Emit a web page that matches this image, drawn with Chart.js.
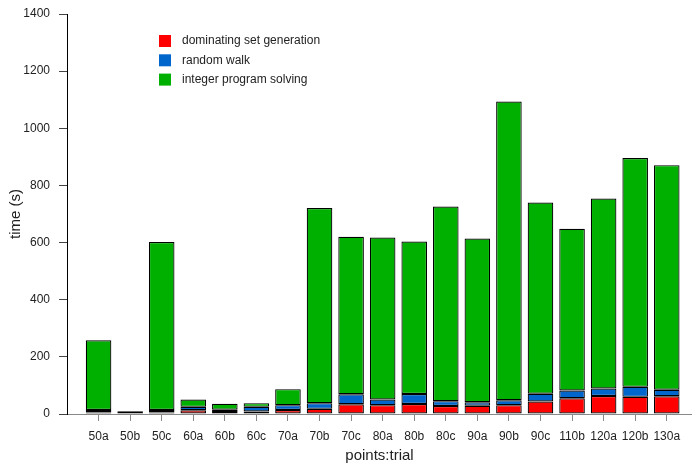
<!DOCTYPE html>
<html>
<head>
<meta charset="utf-8">
<script src="https://cdn.jsdelivr.net/npm/chart.js@4/dist/chart.umd.min.js"></script>
<style>
  html, body { margin: 0; padding: 0; background: #ffffff; }
  #wrap { width: 692px; height: 464px; }
</style>
</head>
<body>
<div id="wrap"><canvas id="c" width="692" height="464"></canvas></div>
<script>
// Run labels (points:trial)
const categories = ['50a', '50b', '50c', '60a', '60b', '60c', '70a', '70b', '70c', '80a',
                    '80b', '80c', '90a', '90b', '90c', '110b', '120a', '120b', '130a'];

// Time spent in each phase, seconds
const dominatingSet  = [5, 2, 5, 13, 7, 9, 14, 18, 34, 31, 35, 28, 29, 31, 44, 55, 63, 60, 62];
const randomWalk     = [9, 5, 9, 12, 8, 16, 17, 20, 35, 20, 35, 17, 12, 17, 27, 27, 26, 35, 23];
const integerProgram = [244, 3, 588, 26, 21, 13, 56, 683, 551, 567, 534, 681, 573, 1046, 669, 566, 665, 801, 786];

const seriesNames = ['dominating set generation', 'random walk', 'integer program solving'];
const seriesColors = ['#ff0000', '#0066cc', '#00b000'];

const yTicks = [0, 200, 400, 600, 800, 1000, 1200, 1400];

const FONT = 'Liberation Sans, Arial, Helvetica, sans-serif';

function toPoints(values) {
  return values.map((v, i) => ({ x: i, y: v }));
}

const datasets = [dominatingSet, randomWalk, integerProgram].map((vals, k) => ({
  label: seriesNames[k],
  data: toPoints(vals),
  backgroundColor: seriesColors[k],
  borderColor: '#000000',
  borderWidth: 1.2,
  borderSkipped: false,
  categoryPercentage: 1,
  barPercentage: 0.81
}));

// Legend drawn inside the plot area, stacked vertically
const innerLegend = {
  id: 'innerLegend',
  afterDraw(chart, args, opts) {
    const ctx = chart.ctx;
    ctx.save();
    ctx.font = '12px ' + FONT;
    ctx.textBaseline = 'middle';
    ctx.textAlign = 'left';
    chart.data.datasets.forEach((ds, i) => {
      const cy = opts.y + i * opts.step;
      ctx.fillStyle = ds.backgroundColor;
      ctx.fillRect(opts.x, cy - opts.box / 2, opts.box, opts.box);
      ctx.fillStyle = '#222222';
      ctx.fillText(ds.label, opts.x + opts.box + 11, cy);
    });
    ctx.restore();
  }
};

new Chart(document.getElementById('c'), {
  type: 'bar',
  data: { datasets },
  plugins: [innerLegend],
  options: {
    responsive: false,
    devicePixelRatio: 1,
    animation: false,
    layout: { padding: { top: 14, right: 0, bottom: 0, left: 0 } },
    plugins: {
      legend: { display: false },
      tooltip: { enabled: false },
      innerLegend: { x: 159, y: 41, step: 19.3, box: 12 }
    },
    scales: {
      x: {
        type: 'linear',
        stacked: true,
        offset: false,
        min: -1,
        max: 18.8,
        afterBuildTicks(scale) {
          scale.ticks = categories.map((_, i) => ({ value: i }));
        },
        afterFit(scale) {
          scale.height = 50;
          scale.paddingLeft = 0;
          scale.paddingRight = 0;
        },
        ticks: {
          autoSkip: false,
          maxRotation: 0,
          padding: 8,
          color: '#222222',
          font: { family: FONT, size: 12 },
          callback: (v) => categories[v]
        },
        grid: { offset: false, drawOnChartArea: false, drawTicks: true, tickLength: 7, color: '#888888' },
        border: { display: true, color: '#888888', width: 1 },
        title: {
          display: true,
          text: 'points:trial',
          color: '#222222',
          font: { family: FONT, size: 15, lineHeight: 1 },
          padding: { top: 0, bottom: 1 }
        }
      },
      y: {
        stacked: true,
        min: 0,
        max: 1400,
        afterBuildTicks(scale) {
          scale.ticks = yTicks.map(v => ({ value: v }));
        },
        afterFit(scale) {
          scale.width = 67;
          scale.paddingTop = 0;
          scale.paddingBottom = 0;
        },
        ticks: {
          padding: 9,
          color: '#222222',
          font: { family: FONT, size: 12 },
          callback: (v) => String(v)
        },
        grid: { drawOnChartArea: false, drawTicks: true, tickLength: 8, color: '#444444' },
        border: { display: true, color: '#000000', width: 1 },
        title: {
          display: true,
          text: 'time (s)',
          color: '#222222',
          font: { family: FONT, size: 15, lineHeight: 1 },
          padding: { top: 8, bottom: 0 }
        }
      }
    }
  }
});
</script>
</body>
</html>
